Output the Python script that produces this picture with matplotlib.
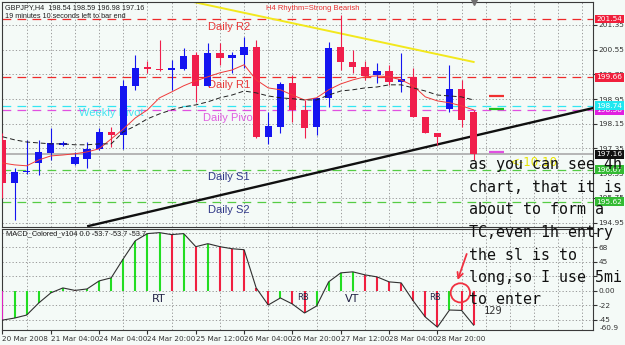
import matplotlib
matplotlib.use("Agg")
import matplotlib.pyplot as plt
import matplotlib.transforms as mtransforms
from matplotlib.patches import Ellipse
import numpy as np

# GBPJPY H4 candles
opens = [197.63, 196.24, 196.59, 196.88, 197.21, 197.47, 196.85, 197.01, 197.34, 197.89,
         197.79, 199.38, 199.99, 199.93, 199.89, 199.93, 200.38, 199.38, 200.44, 200.28,
         200.38, 200.64, 197.73, 198.05, 199.47, 198.60, 198.05, 198.99, 200.64, 200.15,
         199.99, 199.73, 199.86, 199.50, 199.67, 198.37, 197.85, 198.63, 199.28, 198.54]
highs = [197.85, 196.72, 197.63, 197.63, 198.02, 197.60, 197.24, 197.56, 198.02, 198.05,
         199.57, 200.38, 200.18, 200.86, 200.22, 200.61, 200.48, 200.77, 200.77, 200.48,
         200.96, 200.86, 198.53, 199.50, 199.73, 198.92, 198.99, 200.80, 201.67, 200.54,
         200.18, 200.12, 200.06, 200.44, 199.96, 198.37, 197.85, 200.06, 199.57, 198.59]
lows = [195.75, 195.04, 196.53, 196.50, 196.98, 197.44, 196.82, 196.72, 197.30, 197.40,
        197.34, 199.25, 199.80, 199.86, 199.25, 199.89, 198.86, 199.38, 200.06, 199.80,
        199.96, 197.69, 197.50, 197.86, 198.21, 197.69, 197.79, 198.70, 199.89, 199.80,
        199.57, 199.47, 199.41, 199.18, 198.37, 197.85, 197.47, 198.53, 198.05, 196.98]
closes = [196.24, 196.59, 196.62, 197.24, 197.53, 197.53, 197.08, 197.34, 197.89, 197.79,
          199.38, 199.96, 199.93, 199.89, 199.96, 200.35, 199.38, 200.44, 200.28, 200.38,
          200.64, 197.73, 198.08, 199.44, 198.60, 198.02, 198.99, 200.61, 200.15, 199.99,
          199.70, 199.86, 199.50, 199.60, 198.37, 197.85, 197.73, 199.28, 198.27, 197.16]

ma_red = [196.88, 196.82, 196.79, 196.98, 197.11, 197.14, 197.18, 197.24, 197.34, 197.66,
          197.98, 198.34, 198.60, 198.99, 199.18, 199.38, 199.54, 199.67, 199.80, 199.89,
          200.06, 199.57, 199.31, 199.25, 199.08, 198.92, 198.99, 199.25, 199.44, 199.57,
          199.67, 199.70, 199.67, 199.57, 199.38, 199.02, 198.89, 198.83, 198.73, 198.60]
ma_black = [197.73, 197.63, 197.56, 197.53, 197.50, 197.50, 197.47, 197.47, 197.50, 197.50,
            197.89, 198.08, 198.31, 198.47, 198.60, 198.70, 198.76, 198.86, 198.99, 199.08,
            199.21, 199.15, 199.05, 198.99, 198.96, 198.92, 198.92, 199.08, 199.21, 199.25,
            199.31, 199.34, 199.41, 199.41, 199.31, 199.21, 199.08, 199.05, 199.02, 198.92]

macd = [-45.7, -42.5, -37.8, -18.9, -3.1, 4.7, 0.8, 3.1, 15.7, 20.5,
        50.4, 78.7, 89.8, 91.3, 88.2, 89.8, 69.3, 74.0, 69.3, 66.1,
        64.6, 4.7, -22.0, -11.0, -20.5, -34.6, -23.6, 14.2, 28.3, 29.9,
        25.2, 22.0, 14.2, 12.6, -15.7, -40.9, -56.7, -29.9, -30.5, -53.7]

level_names = ["Daily R2", "Daily R1", "Weekly Pivot", "Daily Pivot", "Daily S1", "Daily S2"]
level_prices = [201.54, 199.66, 198.74, 198.58, 196.67, 195.62]
level_colors = ["#EE2A2A", "#EE2A2A", "#33E6F2", "#E050E0", "#55CC44", "#55CC44"]
label_colors = ["#E83838", "#E83838", "#44E4F0", "#E060E0", "#303888", "#303888"]
label_bars = [17.0, 17.0, 6.3, 16.6, 17.0, 17.0]
bid = 197.16

yellow_x = [14.5, 39.0]
yellow_y = [202.2, 200.15]
trend_x = [7.1, 48.9]
trend_y = [194.84, 198.66]

price_ticks = [194.95, 195.75, 196.55, 197.35, 198.15, 198.95, 199.75, 200.55, 201.35]
macd_grid = [-45.5, -22.7, 0, 22.7, 45.5, 68.2, 90.9]
macd_labels = ["-45", "-22", "0.00", "", "45", "68", ""]
date_labels = ["20 Mar 2008", "21 Mar 04:00", "24 Mar 04:00", "24 Mar 20:00", "25 Mar 12:00",
               "26 Mar 04:00", "26 Mar 20:00", "27 Mar 12:00", "28 Mar 04:00", "28 Mar 20:00"]

note_lines = ["as you can see 4h", "chart, that it is", "about to form a",
              "TC,even 1h entry", "the sl is to", "long,so I use 5mi", "to enter"]

BG = "#F4FAF7"
RED = "#F01E4B"
BLUE = "#1414F0"
GRIDC = "#8C8C8C"

x = np.arange(len(opens))
o = np.array(opens)
c = np.array(closes)
candle_col = [BLUE if cc >= oo else RED for oo, cc in zip(o, c)]

fig = plt.figure(figsize=(6.25, 3.45), dpi=100, facecolor=BG)
W, H = 625.0, 345.0
ax = fig.add_axes([2 / W, 1 - 227 / H, 591 / W, 225 / H], facecolor=BG)
ax2 = fig.add_axes([2 / W, 15 / H, 591 / W, 101 / H], facecolor=BG)

xlim = (-0.04, 48.88)
for a in (ax, ax2):
    a.set_xlim(*xlim)
    a.set_xticks(np.arange(0, 49, 2), minor=True)
    a.grid(which="minor", axis="x", color=GRIDC, linestyle=(0, (1.5, 2.5)), lw=0.6, zorder=0)
    a.grid(which="major", axis="y", color=GRIDC, linestyle=(0, (1.5, 2.5)), lw=0.6, zorder=0)
    a.tick_params(which="minor", length=0)
    for s in a.spines.values():
        s.set_color("#3A3A3A")
        s.set_linewidth(0.8)
    a.set_axisbelow(True)

# ---- price panel
ax.set_ylim(194.81, 202.09)
ax.yaxis.tick_right()
ax.set_yticks(price_ticks)
ax.set_yticklabels(["%.2f" % p for p in price_ticks])
ax.tick_params(axis="y", length=3, pad=1, labelsize=5.3, colors="#333333")
ax.set_xticks([])

for name, p, lc, tc, bx in zip(level_names, level_prices, level_colors, label_colors, label_bars):
    ax.axhline(p, color=lc, lw=0.9, linestyle=(0, (7, 5)), zorder=1)
    ax.text(bx, p - 0.09, name, color=tc, fontsize=8, family="Liberation Sans",
            ha="left", va="top", zorder=1.5)
ax.axhline(bid, color="#B5B5B5", lw=1.4, zorder=1)

ax.plot(yellow_x, yellow_y, color="#F2E81C", lw=1.4, zorder=2)
ax.plot(trend_x, trend_y, color="#101010", lw=1.7, zorder=2.5)

ax.vlines(x, lows, highs, colors=candle_col, lw=0.8, zorder=3)
body = np.maximum(np.abs(c - o), 0.03)
ax.bar(x, body, bottom=np.minimum(o, c), width=0.6, color=candle_col, lw=0, zorder=3.2)

ax.plot(x, ma_red, color="#F03A3A", lw=0.7, zorder=4)
ax.plot(x, ma_black, color="#202020", lw=0.7, linestyle=(0, (5, 3)), zorder=4)

# small projected marks right of the last bar
ax.hlines([199.05, 198.63, 197.24], 40.3, 41.5, colors=["#F03030", "#20C020", "#E050E0"],
          lw=1.6, zorder=4)
ax.plot([39], [202.09], marker="v", color="#707070", ms=4, clip_on=False, zorder=6)

# coloured price boxes on the right scale (magenta under cyan, as in the reference)
btr = mtransforms.blended_transform_factory(ax.transAxes, ax.transData)
box_prices = [201.54, 199.66, 198.58, 198.74, 197.16, 196.67, 195.62]
box_colors = ["#F0203C", "#F0203C", "#E020E0", "#20E8F0", "#111111", "#33BB33", "#33BB33"]
for k, (p, col) in enumerate(zip(box_prices, box_colors)):
    ax.text(1.006, p, "%.2f" % p, transform=btr, fontsize=5.3, color="white",
            ha="left", va="center", clip_on=False, zorder=7 + 0.01 * k,
            bbox=dict(boxstyle="square,pad=0.2", fc=col, ec="none"))

# ---- MACD panel
ax2.set_ylim(-61.2, 97)
ax2.yaxis.tick_right()
ax2.set_yticks(macd_grid)
ax2.set_yticklabels(macd_labels)
ax2.tick_params(axis="y", length=3, pad=1, labelsize=5.3, colors="#333333")
ax2.set_xticks(np.arange(0, 37, 4))
ax2.set_xticklabels(date_labels)
ax2.tick_params(axis="x", length=3, pad=1.5, labelsize=5.2, colors="#333333")
for lbl in ax2.get_xticklabels():
    lbl.set_ha("left")

m = np.array(macd)
mcol = ["#E020C0"] + ["#22DD22" if b > a else "#F02040" for a, b in zip(m[:-1], m[1:])]
ax2.vlines(x, 0, m, colors=mcol, lw=1.5, zorder=3)
ax2.plot(x, m, color="#303030", lw=0.8, zorder=4)
ax2.text(1.012, -57.5, "-60.9", transform=mtransforms.blended_transform_factory(ax2.transAxes, ax2.transData),
         fontsize=5.3, color="#333333", ha="left", va="center", clip_on=False)

for lab, bx, yv, fs in [("RT", 12.9, -13, 8), ("RB", 24.9, -11, 6), ("VT", 28.9, -13, 8), ("RB", 35.8, -11, 6)]:
    ax2.text(bx, yv, lab, fontsize=fs, color="#222244", ha="center", va="center", zorder=5)
ax2.text(39.8, -36, "129", fontsize=7.5, family="DejaVu Sans Mono", color="#333333", zorder=5)

# hand-drawn circle + arrow
ax2.add_patch(Ellipse((37.9, -3), 1.6, 30, fill=False, ec="#F03040", lw=1.3, zorder=6))
ax2.annotate("", xy=(37.6, 13), xytext=(38.5, 62),
             arrowprops=dict(arrowstyle="->", color="#F03040", lw=1.3), zorder=6)

# ---- texts
def fx(px):
    return px / W

def fy(py):
    return 1 - py / H

fig.text(fx(5), fy(8), "GBPJPY,H4  198.54 198.59 196.98 197.16", fontsize=5.2,
         family="Liberation Sans", color="#202020", va="center")
fig.text(fx(5), fy(17), "19 minutes 10 seconds left to bar end", fontsize=5.2,
         family="Liberation Sans", color="#202020", va="center")
fig.text(fx(266), fy(8), "H4 Rhythm=Strong Bearish", fontsize=5.5,
         family="Liberation Sans", color="#E83030", va="center")
fig.text(fx(6), fy(234), "MACD_Colored_v104 0.0 -53.7 -53.7 -53.7", fontsize=5.3,
         family="Liberation Sans", color="#202020", va="center")
fig.text(fx(510), fy(163), "<-10:10", fontsize=8.5, color="#E8E400", va="center", zorder=8)

for k, line in enumerate(note_lines):
    fig.text(fx(469), fy(165 + 22.5 * k), line, fontsize=10.8, family="DejaVu Sans Mono",
             color="#111111", va="center", zorder=9)

fig.savefig("out.png", dpi=100, facecolor=BG)
